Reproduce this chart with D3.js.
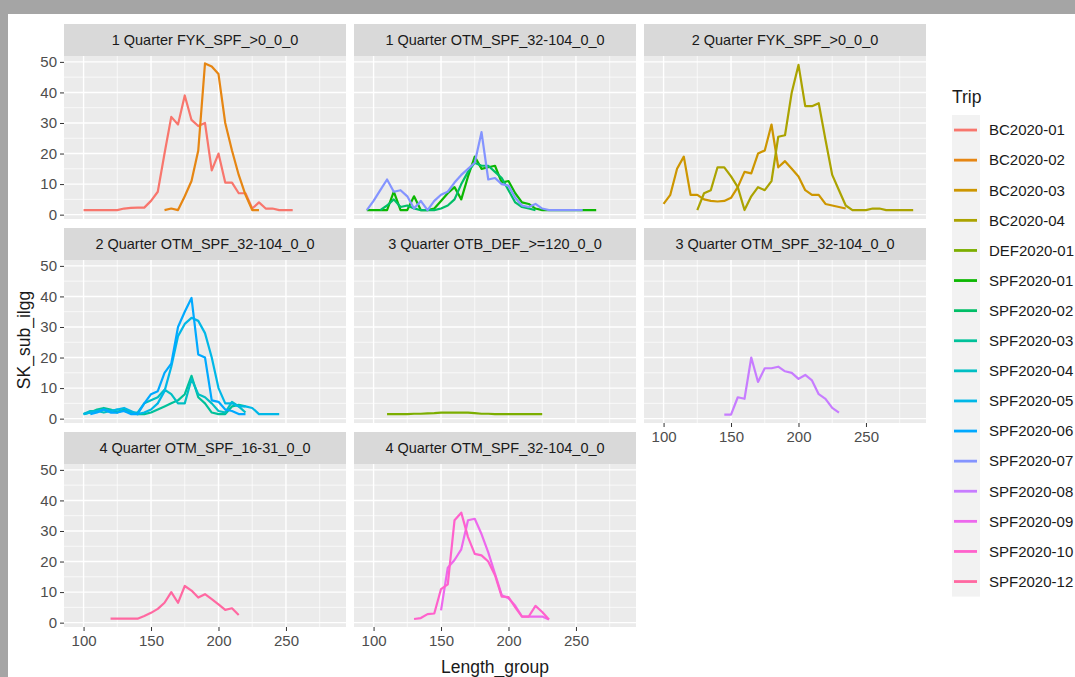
<!DOCTYPE html>
<html><head><meta charset="utf-8">
<script src="https://cdn.jsdelivr.net/npm/d3@7"></script>
<style>html,body{margin:0;padding:0;background:#fff;}svg{display:block;font-family:"Liberation Sans",Arial,sans-serif;}</style>
</head><body>
<svg id="chart" width="1075" height="677"></svg>
<script>
// ---------------- DATA ----------------
const trips = ["BC2020-01","BC2020-02","BC2020-03","BC2020-04","DEF2020-01","SPF2020-01","SPF2020-02","SPF2020-03","SPF2020-04","SPF2020-05","SPF2020-06","SPF2020-07","SPF2020-08","SPF2020-09","SPF2020-10","SPF2020-12"];
const panelLabels = ["1 Quarter FYK_SPF_>0_0_0","1 Quarter OTM_SPF_32-104_0_0","2 Quarter FYK_SPF_>0_0_0","2 Quarter OTM_SPF_32-104_0_0","3 Quarter OTB_DEF_>=120_0_0","3 Quarter OTM_SPF_32-104_0_0","4 Quarter OTM_SPF_16-31_0_0","4 Quarter OTM_SPF_32-104_0_0"];
const panelTrips = [["BC2020-01","BC2020-02"],["SPF2020-01","SPF2020-02","SPF2020-07"],["BC2020-03","BC2020-04"],["SPF2020-03","SPF2020-04","SPF2020-05","SPF2020-06"],["DEF2020-01"],["SPF2020-08"],["SPF2020-12"],["SPF2020-09","SPF2020-10"]];
const xTicks = [100,150,200,250];
const yTicks = [0,10,20,30,40,50];

// [Length_group, SK_sub_ilgg]
const BC2020_01 = [[100,1.5],[105,1.5],[110,1.5],[115,1.5],[120,1.5],[125,1.5],[130,2],[135,2.2],[140,2.3],[145,2.3],[150,4.5],[155,7.5],[160,20],[165,32],[170,29.5],[175,39],[180,31],[185,29],[190,30],[195,14.5],[200,20],[205,10.5],[210,10.5],[215,7],[220,7],[225,2],[230,4],[235,2],[240,2],[245,1.5],[250,1.5],[255,1.5]];
const BC2020_02 = [[160,1.5],[165,2],[170,1.5],[175,6],[180,11],[185,21],[190,49.5],[195,48.5],[200,46],[205,30],[210,21],[215,13],[220,6.5],[225,1.5],[230,1.5]];
const BC2020_03 = [[100,3.5],[105,6.5],[110,15],[115,19],[120,6.5],[125,6.5],[130,5],[135,4.5],[140,4.3],[145,4.5],[150,5.5],[155,9],[160,14],[165,13.5],[170,20],[175,21],[180,29.5],[185,15.5],[190,17.5],[195,15],[200,12.5],[205,8],[210,6.5],[215,6.5],[220,3.5],[225,3],[230,2.5],[235,2]];
const BC2020_04 = [[125,1.5],[130,7],[135,8],[140,15.5],[145,15.5],[150,12.5],[155,9],[160,1.5],[165,6],[170,9],[175,8],[180,11],[185,25.5],[190,26],[195,40],[200,49],[205,35.5],[210,35.5],[215,36.5],[220,24.5],[225,13],[230,8],[235,3],[240,1.5],[245,1.5],[250,1.5],[255,2],[260,2],[265,1.5],[270,1.5],[275,1.5],[280,1.5],[285,1.5]];
const DEF2020_01 = [[110,1.5],[115,1.5],[120,1.5],[125,1.5],[130,1.6],[135,1.6],[140,1.7],[145,1.8],[150,2],[155,2],[160,2],[165,2],[170,2],[175,1.8],[180,1.6],[185,1.6],[190,1.5],[195,1.5],[200,1.5],[205,1.5],[210,1.5],[215,1.5],[220,1.5],[225,1.5]];
const SPF2020_01 = [[95,1.5],[100,1.5],[105,1.5],[110,1.5],[115,7.5],[120,1.5],[125,1.5],[130,6],[135,1.5],[140,1.5],[145,2],[150,4.5],[155,7],[160,9],[165,5],[170,12.5],[175,19],[180,15],[185,15.5],[190,16],[195,10.5],[200,11],[205,7],[210,4],[215,3.5],[220,2],[225,1.5],[230,1.5],[235,1.5],[240,1.5],[245,1.5],[250,1.5],[255,1.5],[260,1.5],[265,1.5]];
const SPF2020_02 = [[105,1.5],[110,3],[115,5],[120,2.5],[125,3],[130,2],[135,1.5],[140,1.5],[145,1.5],[150,2],[155,3],[160,5],[165,10],[170,14],[175,17],[180,16],[185,16],[190,14],[195,12],[200,8],[205,4],[210,2.5],[215,2],[220,1.5]];
const SPF2020_03 = [[100,1.5],[105,2],[110,3],[115,3.5],[120,3],[125,2],[130,3],[135,2],[140,1.5],[145,1.5],[150,2],[155,3],[160,4],[165,5],[170,6],[175,8],[180,14],[185,7],[190,5],[195,2],[200,1.5],[205,1.5],[210,4],[215,4.5],[220,4]];
const SPF2020_04 = [[100,1.5],[105,2.5],[110,2.5],[115,2],[120,2.5],[125,3],[130,2.5],[135,2],[140,2],[145,5],[150,6],[155,7],[160,9.5],[165,8],[170,5],[175,5],[180,13],[185,8],[190,7],[195,5],[200,2.5],[205,2],[210,5.5],[215,4],[220,2]];
const SPF2020_05 = [[100,1.5],[105,2],[110,2.5],[115,3],[120,2.5],[125,3],[130,3.5],[135,2.5],[140,1.5],[145,2],[150,3],[155,5],[160,9],[165,17],[170,27],[175,31],[180,33],[185,32],[190,28],[195,20],[200,10],[205,5],[210,5],[215,4],[220,4],[225,3.5],[230,1.5],[235,1.5],[240,1.5],[245,1.5]];
const SPF2020_06 = [[105,1.5],[110,2],[115,3],[120,2],[125,2],[130,2.5],[135,1.5],[140,1.5],[145,5],[150,8],[155,9],[160,15],[165,18],[170,30],[175,35],[180,39.5],[185,21],[190,20],[195,6],[200,5.5],[205,3],[210,2.5],[215,1.5],[220,1.5]];
const SPF2020_07 = [[95,1.5],[100,4.5],[105,8],[110,11.5],[115,7.5],[120,8],[125,6],[130,2],[135,4.5],[140,1.5],[145,4.5],[150,6.5],[155,7.5],[160,10.5],[165,13],[170,15],[175,17],[180,27],[185,11.5],[190,12],[195,10],[200,9.5],[205,5.5],[210,3],[215,2.5],[220,3.5],[225,2],[230,1.5],[235,1.5],[240,1.5],[245,1.5],[250,1.5],[255,1.5]];
const SPF2020_08 = [[145,1.3],[150,1.3],[155,7],[160,6.5],[165,20],[170,12],[175,16.5],[180,16.5],[185,17],[190,15.5],[195,15],[200,13],[205,14.3],[210,12.5],[215,8],[220,6.5],[225,3.5],[230,2]];
const SPF2020_09 = [[150,4],[155,18],[160,20.5],[165,24],[170,33.5],[175,34],[180,29],[185,23],[190,16],[195,9],[200,8],[205,5.5],[210,2],[215,2],[220,2],[225,2],[230,1]];
const SPF2020_10 = [[130,1.2],[135,1.5],[140,2.8],[145,3],[150,11],[155,12.5],[160,33.5],[165,36],[170,28],[175,22.5],[180,22],[185,20],[190,15.5],[195,8.5],[200,8.4],[205,5],[210,2],[215,2],[220,5.5],[225,3.5],[230,1]];
const SPF2020_12 = [[120,1.3],[125,1.3],[130,1.3],[135,1.3],[140,1.3],[145,2.2],[150,3.2],[155,4.5],[160,6.5],[165,10],[170,6.5],[175,12],[180,10.5],[185,8.2],[190,9.3],[195,7.7],[200,6],[205,4.2],[210,4.7],[215,2.5]];

const seriesByTrip = {
  "BC2020-01":BC2020_01,"BC2020-02":BC2020_02,"BC2020-03":BC2020_03,"BC2020-04":BC2020_04,
  "DEF2020-01":DEF2020_01,"SPF2020-01":SPF2020_01,"SPF2020-02":SPF2020_02,"SPF2020-03":SPF2020_03,
  "SPF2020-04":SPF2020_04,"SPF2020-05":SPF2020_05,"SPF2020-06":SPF2020_06,"SPF2020-07":SPF2020_07,
  "SPF2020-08":SPF2020_08,"SPF2020-09":SPF2020_09,"SPF2020-10":SPF2020_10,"SPF2020-12":SPF2020_12
};

// ---------------- COLOURS (ggplot hue palette, polar LUV) ----------------
function hclLuv(h, c, l) {
  const XN = 95.047, YN = 100.0, ZN = 108.883;
  const hr = h * Math.PI / 180, U = c * Math.cos(hr), V = c * Math.sin(hr);
  const Y = YN * (l > 7.999592 ? Math.pow((l + 16) / 116, 3) : l / 903.3);
  const t = XN + YN + ZN, x = XN / t, y = YN / t;
  const uN = 2 * x / (6 * y - x + 1.5), vN = 4.5 * y / (6 * y - x + 1.5);
  const u = U / (13 * l) + uN, v = V / (13 * l) + vN;
  const X = 9 * Y * u / (4 * v), Z = -X / 3 - 5 * Y + 3 * Y / v;
  const g = a => a > 0.00304 ? 1.055 * Math.pow(a, 1 / 2.4) - 0.055 : 12.92 * a;
  const cl = a => Math.round(255 * Math.max(0, Math.min(1, a)));
  const R = g((3.240479 * X - 1.537150 * Y - 0.498535 * Z) / YN);
  const G = g((-0.969256 * X + 1.875992 * Y + 0.041556 * Z) / YN);
  const B = g((0.055648 * X - 0.204043 * Y + 1.057311 * Z) / YN);
  return d3.rgb(cl(R), cl(G), cl(B)).formatHex();
}
const nT = trips.length;
const colors = trips.map((t, i) => hclLuv(15 + i * 360 / nT, 100, 65));
const color = d3.scaleOrdinal().domain(trips).range(colors);

// ---------------- LAYOUT ----------------
const svg = d3.select("#chart");
const colX = [64, 354, 644], panelW = 282;
const rowY = [56, 260, 464], plotH = 163, stripH = 32;
const FONT = "Liberation Sans, Arial, sans-serif";

// frame around screenshot
svg.append("rect").attr("x", 0).attr("y", 0).attr("width", 1075).attr("height", 677).attr("fill", "#ffffff");
svg.append("rect").attr("x", 0).attr("y", 0).attr("width", 1075).attr("height", 14).attr("fill", "#a5a5a5");
svg.append("rect").attr("x", 0).attr("y", 0).attr("width", 8).attr("height", 677).attr("fill", "#a5a5a5");

// scales (ggplot-style 5% expansion)
const allPts = Object.values(seriesByTrip).flat();
const xe = d3.extent(allPts, d => d[0]), ye = d3.extent(allPts, d => d[1]);
const xPad = (xe[1] - xe[0]) * 0.05, yPad = (ye[1] - ye[0]) * 0.05;
const x = d3.scaleLinear().domain([xe[0] - xPad, xe[1] + xPad]).range([0, panelW]);
const y = d3.scaleLinear().domain([ye[0] - yPad, ye[1] + yPad]).range([plotH, 0]);
const xMinor = [75, 125, 175, 225, 275].filter(v => v > x.domain()[0] && v < x.domain()[1]);
const yMinor = [5, 15, 25, 35, 45];

const line = d3.line().x(d => x(d[0])).y(d => y(d[1]));

panelLabels.forEach((lab, i) => {
  const col = i % 3, row = Math.floor(i / 3);
  const g = svg.append("g").attr("transform", `translate(${colX[col]},${rowY[row]})`);
  // strip
  g.append("rect").attr("x", 0).attr("y", -stripH).attr("width", panelW).attr("height", stripH).attr("fill", "#d9d9d9");
  g.append("text").attr("x", panelW / 2).attr("y", -stripH / 2).attr("dy", "0.35em")
    .attr("text-anchor", "middle").attr("font-size", 14.5).attr("fill", "#1a1a1a").text(lab);
  // panel
  g.append("rect").attr("width", panelW).attr("height", plotH).attr("fill", "#ebebeb");
  g.selectAll(".ymin").data(yMinor).enter().append("line")
    .attr("x1", 0).attr("x2", panelW).attr("y1", d => y(d)).attr("y2", d => y(d))
    .attr("stroke", "#fff").attr("stroke-width", 0.7);
  g.selectAll(".xmin").data(xMinor).enter().append("line")
    .attr("y1", 0).attr("y2", plotH).attr("x1", d => x(d)).attr("x2", d => x(d))
    .attr("stroke", "#fff").attr("stroke-width", 0.7);
  g.selectAll(".ymaj").data(yTicks).enter().append("line")
    .attr("x1", 0).attr("x2", panelW).attr("y1", d => y(d)).attr("y2", d => y(d))
    .attr("stroke", "#fff").attr("stroke-width", 1.4);
  g.selectAll(".xmaj").data(xTicks).enter().append("line")
    .attr("y1", 0).attr("y2", plotH).attr("x1", d => x(d)).attr("x2", d => x(d))
    .attr("stroke", "#fff").attr("stroke-width", 1.4);
  // lines
  const tr = trips.filter(t => panelTrips[i].includes(t));
  g.selectAll(".trip").data(tr).enter().append("path")
    .attr("d", t => line(seriesByTrip[t])).attr("fill", "none")
    .attr("stroke", t => color(t)).attr("stroke-width", 2.2).attr("stroke-linejoin", "round");
  // axes
  if (col === 0) {
    const ax = g.append("g").call(d3.axisLeft(y).tickValues(yTicks).tickSize(4).tickPadding(3));
    ax.select(".domain").remove();
    ax.selectAll("line").attr("stroke", "#333");
    ax.selectAll("text").attr("font-size", 15).attr("fill", "#4d4d4d").attr("font-family", FONT);
  }
  const isBottom = (row === 2) || (row === 1 && col === 2);
  if (isBottom) {
    const ax = g.append("g").attr("transform", `translate(0,${plotH})`)
      .call(d3.axisBottom(x).tickValues(xTicks).tickSize(4).tickPadding(4));
    ax.select(".domain").remove();
    ax.selectAll("line").attr("stroke", "#333");
    ax.selectAll("text").attr("font-size", 15).attr("fill", "#4d4d4d").attr("font-family", FONT);
  }
});

// axis titles
svg.append("text").attr("x", (colX[0] + colX[2] + panelW) / 2).attr("y", 673)
  .attr("text-anchor", "middle").attr("font-size", 17.5).attr("fill", "#1a1a1a").text("Length_group");
svg.append("text").attr("transform", "translate(30,340) rotate(-90)")
  .attr("text-anchor", "middle").attr("font-size", 17.5).attr("fill", "#1a1a1a").text("SK_sub_ilgg");

// legend
const lg = svg.append("g").attr("transform", "translate(952,0)");
lg.append("text").attr("x", 0).attr("y", 97).attr("dy", "0.35em").attr("font-size", 17.5).attr("fill", "#1a1a1a").text("Trip");
const keyH = 30.1, key0 = 115;
lg.append("rect").attr("x", 0).attr("y", key0).attr("width", 28).attr("height", keyH * trips.length).attr("fill", "#f2f2f2");
const items = lg.selectAll(".item").data(trips).enter().append("g")
  .attr("transform", (d, i) => `translate(0,${key0 + keyH * i + keyH / 2})`);
items.append("line").attr("x1", 2).attr("x2", 25).attr("y1", 0).attr("y2", 0)
  .attr("stroke", d => color(d)).attr("stroke-width", 2.8);
items.append("text").attr("x", 37).attr("dy", "0.35em").attr("font-size", 15).attr("fill", "#1a1a1a").text(d => d);
</script>
</body></html>
